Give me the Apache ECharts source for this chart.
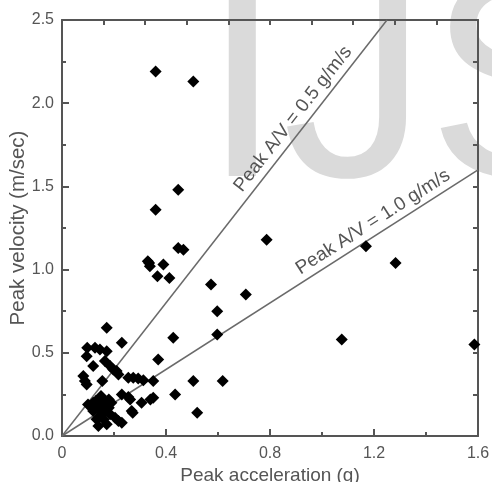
<!DOCTYPE html>
<html>
<head>
<meta charset="utf-8">
<script src="https://cdn.jsdelivr.net/npm/echarts@6/dist/echarts.min.js"></script>
<style>
  html, body { margin: 0; padding: 0; background: #fff; }
  #chart { width: 492px; height: 482px; }
</style>
</head>
<body>
<div id="chart"></div>
<script>
// peak acceleration (g) and peak velocity (m/sec)
var peakAcc = [
  0.36, 0.505, 0.447, 0.36, 0.447, 0.467, 0.787, 1.169, 1.283, 0.335,
  0.338, 0.33, 0.39, 0.367, 0.413, 0.573, 0.707, 0.597, 0.597, 0.428,
  1.076, 1.586, 0.37, 0.505, 0.618, 0.435, 0.52, 0.351, 0.351, 0.34,
  0.306, 0.272, 0.23, 0.172,
  0.097, 0.127, 0.146, 0.172, 0.095, 0.12, 0.165, 0.185, 0.197, 0.21,
  0.217, 0.082, 0.088, 0.095, 0.155, 0.255, 0.274, 0.293, 0.313, 0.23,
  0.255, 0.262, 0.268,
  0.10, 0.11, 0.12, 0.13, 0.14, 0.15, 0.16, 0.17, 0.18, 0.12,
  0.14, 0.16, 0.18, 0.19, 0.15, 0.13,
  0.133, 0.14, 0.172, 0.185, 0.204, 0.217, 0.23, 0.16, 0.15
];
var peakVel = [
  2.19, 2.13, 1.48, 1.36, 1.13, 1.12, 1.18, 1.14, 1.04, 1.04,
  1.02, 1.05, 1.03, 0.96, 0.95, 0.91, 0.85, 0.75, 0.61, 0.59,
  0.58, 0.55, 0.46, 0.33, 0.33, 0.25, 0.14, 0.33, 0.23, 0.22,
  0.20, 0.14, 0.56, 0.65,
  0.53, 0.53, 0.52, 0.51, 0.48, 0.42, 0.45, 0.42, 0.40, 0.39,
  0.37, 0.36, 0.33, 0.31, 0.33, 0.35, 0.35, 0.345, 0.335, 0.25,
  0.235, 0.22, 0.15,
  0.19, 0.18, 0.20, 0.17, 0.22, 0.19, 0.21, 0.18, 0.22, 0.15,
  0.16, 0.15, 0.17, 0.20, 0.24, 0.21,
  0.10, 0.06, 0.07, 0.13, 0.11, 0.09, 0.08, 0.10, 0.12
];
// A/V ratio lines (g/m/s)
var avRatios = [0.5, 1.0];
var avLabels = ['Peak A/V = 0.5 g/m/s', 'Peak A/V = 1.0 g/m/s'];

var xMax = 1.6, yMax = 2.5;
var axisColor = '#555';
var textColor = '#555';
var fontFam = '"Liberation Sans", Arial, sans-serif';

var points = peakAcc.map(function (a, i) { return [a, peakVel[i]]; });

// each ratio line runs from the origin to where it leaves the plot
var ratioSeries = avRatios.map(function (r) {
  var xEnd = Math.min(xMax, yMax * r);
  return {
    type: 'line',
    data: [[0, 0], [xEnd, xEnd / r]],
    symbol: 'none',
    silent: true,
    lineStyle: { color: '#6a6a6a', width: 1.5 },
    z: 1
  };
});

var chart = echarts.init(document.getElementById('chart'));

chart.setOption({
  animation: false,
  backgroundColor: '#fff',
  textStyle: { fontFamily: fontFam },
  grid: { left: 62, top: 20, right: 14, bottom: 46, outerBoundsMode: 'none', containLabel: false },
  graphic: [
    { // watermark
      type: 'text',
      z: -10,
      x: 202,
      y: -49,
      style: {
        text: 'IJS',
        fontSize: 290,
        fontFamily: fontFam,
        fill: '#dadada'
      }
    },
    {
      type: 'text',
      x: 293,
      y: 119,
      rotation: 52 * Math.PI / 180,
      style: {
        text: avLabels[0],
        fontSize: 19,
        fontFamily: fontFam,
        fill: textColor,
        align: 'center',
        verticalAlign: 'middle'
      }
    },
    {
      type: 'text',
      x: 373,
      y: 222,
      rotation: 32.6 * Math.PI / 180,
      style: {
        text: avLabels[1],
        fontSize: 19,
        fontFamily: fontFam,
        fill: textColor,
        align: 'center',
        verticalAlign: 'middle'
      }
    }
  ],
  xAxis: [{
    type: 'value',
    position: 'bottom',
    min: 0, max: xMax, interval: 0.4,
    name: 'Peak acceleration (g)',
    nameLocation: 'middle',
    nameGap: 30,
    nameMoveOverlap: false,
    nameTextStyle: { fontSize: 19, color: textColor, fontFamily: fontFam },
    axisLine: { onZero: false, lineStyle: { color: axisColor, width: 2 } },
    axisTick: { inside: true, length: 7, lineStyle: { color: axisColor, width: 2 } },
    minorTick: { show: true, splitNumber: 2, length: 4, lineStyle: { color: axisColor, width: 2 } },
    axisLabel: {
      fontSize: 16, color: textColor, margin: 10,
      formatter: function (v) { return v === 0 ? '0' : v.toFixed(1); }
    },
    splitLine: { show: false }
  }, {
    type: 'value',
    position: 'top',
    min: 0, max: xMax, interval: 0.16,
    axisLine: { onZero: false, lineStyle: { color: axisColor, width: 2 } },
    axisTick: { inside: true, length: 5, lineStyle: { color: axisColor, width: 2 } },
    axisLabel: { show: false },
    splitLine: { show: false }
  }],
  yAxis: [{
    type: 'value',
    position: 'left',
    min: 0, max: yMax, interval: 0.5,
    name: 'Peak velocity (m/sec)',
    nameLocation: 'middle',
    nameGap: 33,
    nameMoveOverlap: false,
    nameTextStyle: { fontSize: 20.5, color: textColor, fontFamily: fontFam },
    axisLine: { onZero: false, lineStyle: { color: axisColor, width: 2 } },
    axisTick: { inside: true, length: 7, lineStyle: { color: axisColor, width: 2 } },
    minorTick: { show: true, splitNumber: 2, length: 4, lineStyle: { color: axisColor, width: 2 } },
    axisLabel: {
      fontSize: 16, color: textColor, margin: 8,
      formatter: function (v) { return v.toFixed(1); }
    },
    splitLine: { show: false }
  }, {
    type: 'value',
    position: 'right',
    min: 0, max: yMax, interval: 0.25,
    axisLine: { onZero: false, lineStyle: { color: axisColor, width: 2 } },
    axisTick: { inside: true, length: 5, lineStyle: { color: axisColor, width: 2 } },
    axisLabel: { show: false },
    splitLine: { show: false }
  }],
  series: ratioSeries.concat([{
    type: 'scatter',
    data: points,
    symbol: 'diamond',
    symbolSize: 12,
    itemStyle: { color: '#000', opacity: 1 },
    z: 3
  }])
});
</script>
</body>
</html>
